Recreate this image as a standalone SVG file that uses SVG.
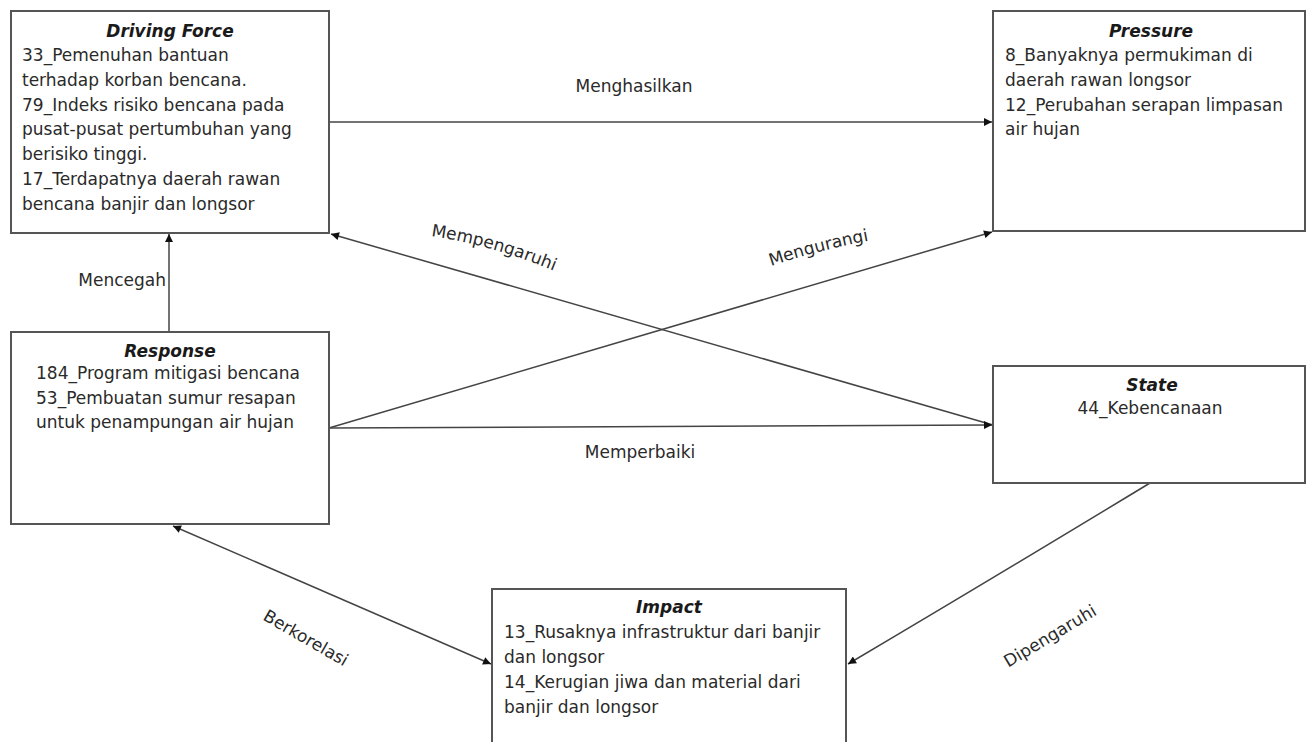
<svg xmlns="http://www.w3.org/2000/svg" width="1308" height="742" viewBox="0 0 1308 742">
<style>
.box{fill:#fff;stroke:#555;stroke-width:2}
.t{font-family:"DejaVu Sans",Verdana,sans-serif;font-size:17px;fill:#2a2a2a}
.h{font-family:"DejaVu Sans",Verdana,sans-serif;font-size:17px;font-weight:bold;font-style:italic;fill:#1a1a1a;text-anchor:middle}
.c{text-anchor:middle}
.ln{fill:none;stroke:#444;stroke-width:1.5}
.lb{font-family:"DejaVu Sans",Verdana,sans-serif;font-size:17px;fill:#2a2a2a}
</style>
<defs>
<marker id="ah" viewBox="0 0 10 10" refX="10" refY="5" markerWidth="9" markerHeight="8" markerUnits="userSpaceOnUse" orient="auto-start-reverse">
<path d="M0,0 L10,5 L0,10 z" fill="#111"/>
</marker>
<path id="pMemp" d="M431,236 Q495,245 566,276"/>
<path id="pMeng" d="M771,266 Q825,248 884,238"/>
</defs>
<rect width="1308" height="742" fill="#fff"/>

<g id="connectors">
<line class="ln" x1="329" y1="122" x2="992" y2="122" marker-end="url(#ah)"/>
<line class="ln" x1="169" y1="332" x2="169" y2="234" marker-end="url(#ah)"/>
<line class="ln" x1="993" y1="425" x2="331" y2="234" marker-end="url(#ah)"/>
<line class="ln" x1="329" y1="428" x2="992" y2="232" marker-end="url(#ah)"/>
<line class="ln" x1="329" y1="428" x2="992" y2="425" marker-end="url(#ah)"/>
<line class="ln" x1="173" y1="526" x2="491" y2="664" marker-start="url(#ah)" marker-end="url(#ah)"/>
<path class="ln" d="M1150,483 Q990,580 848,664" marker-end="url(#ah)"/>
<text class="lb c" x="634" y="92">Menghasilkan</text>
<text class="lb" x="166" y="286" text-anchor="end">Mencegah</text>
<text class="lb"><textPath href="#pMemp">Mempengaruhi</textPath></text>
<text class="lb"><textPath href="#pMeng">Mengurangi</textPath></text>
<text class="lb c" x="640" y="458">Memperbaiki</text>
<text class="lb c" transform="translate(303,643) rotate(30)">Berkorelasi</text>
<text class="lb c" transform="translate(1053,641) rotate(-31)">Dipengaruhi</text>
</g>

<g id="driving-force">
<rect class="box" x="11" y="11" width="318" height="222"/>
<text class="h" x="170" y="37">Driving Force</text>
<text class="t" x="22" y="61">33_Pemenuhan bantuan</text>
<text class="t" x="22" y="86">terhadap korban bencana.</text>
<text class="t" x="22" y="111">79_Indeks risiko bencana pada</text>
<text class="t" x="22" y="135">pusat-pusat pertumbuhan yang</text>
<text class="t" x="22" y="160">berisiko tinggi.</text>
<text class="t" x="22" y="185">17_Terdapatnya daerah rawan</text>
<text class="t" x="22" y="210">bencana banjir dan longsor</text>
</g>

<g id="pressure">
<rect class="box" x="993" y="11" width="312" height="220"/>
<text class="h" x="1151" y="37">Pressure</text>
<text class="t" x="1005" y="61">8_Banyaknya permukiman di</text>
<text class="t" x="1005" y="86">daerah rawan longsor</text>
<text class="t" x="1005" y="111">12_Perubahan serapan limpasan</text>
<text class="t" x="1005" y="135">air hujan</text>
</g>

<g id="response">
<rect class="box" x="11" y="332" width="318" height="192"/>
<text class="h" x="170" y="357">Response</text>
<text class="t" x="36" y="379">184_Program mitigasi bencana</text>
<text class="t" x="36" y="404">53_Pembuatan sumur resapan</text>
<text class="t" x="36" y="428">untuk penampungan air hujan</text>
</g>

<g id="state">
<rect class="box" x="993" y="366" width="312" height="117"/>
<text class="h" x="1152" y="391">State</text>
<text class="t c" x="1150" y="414">44_Kebencanaan</text>
</g>

<g id="impact">
<rect class="box" x="492" y="589" width="354" height="180"/>
<text class="h" x="669" y="613">Impact</text>
<text class="t" x="504" y="638">13_Rusaknya infrastruktur dari banjir</text>
<text class="t" x="504" y="663">dan longsor</text>
<text class="t" x="504" y="688">14_Kerugian jiwa dan material dari</text>
<text class="t" x="504" y="713">banjir dan longsor</text>
</g>
</svg>
